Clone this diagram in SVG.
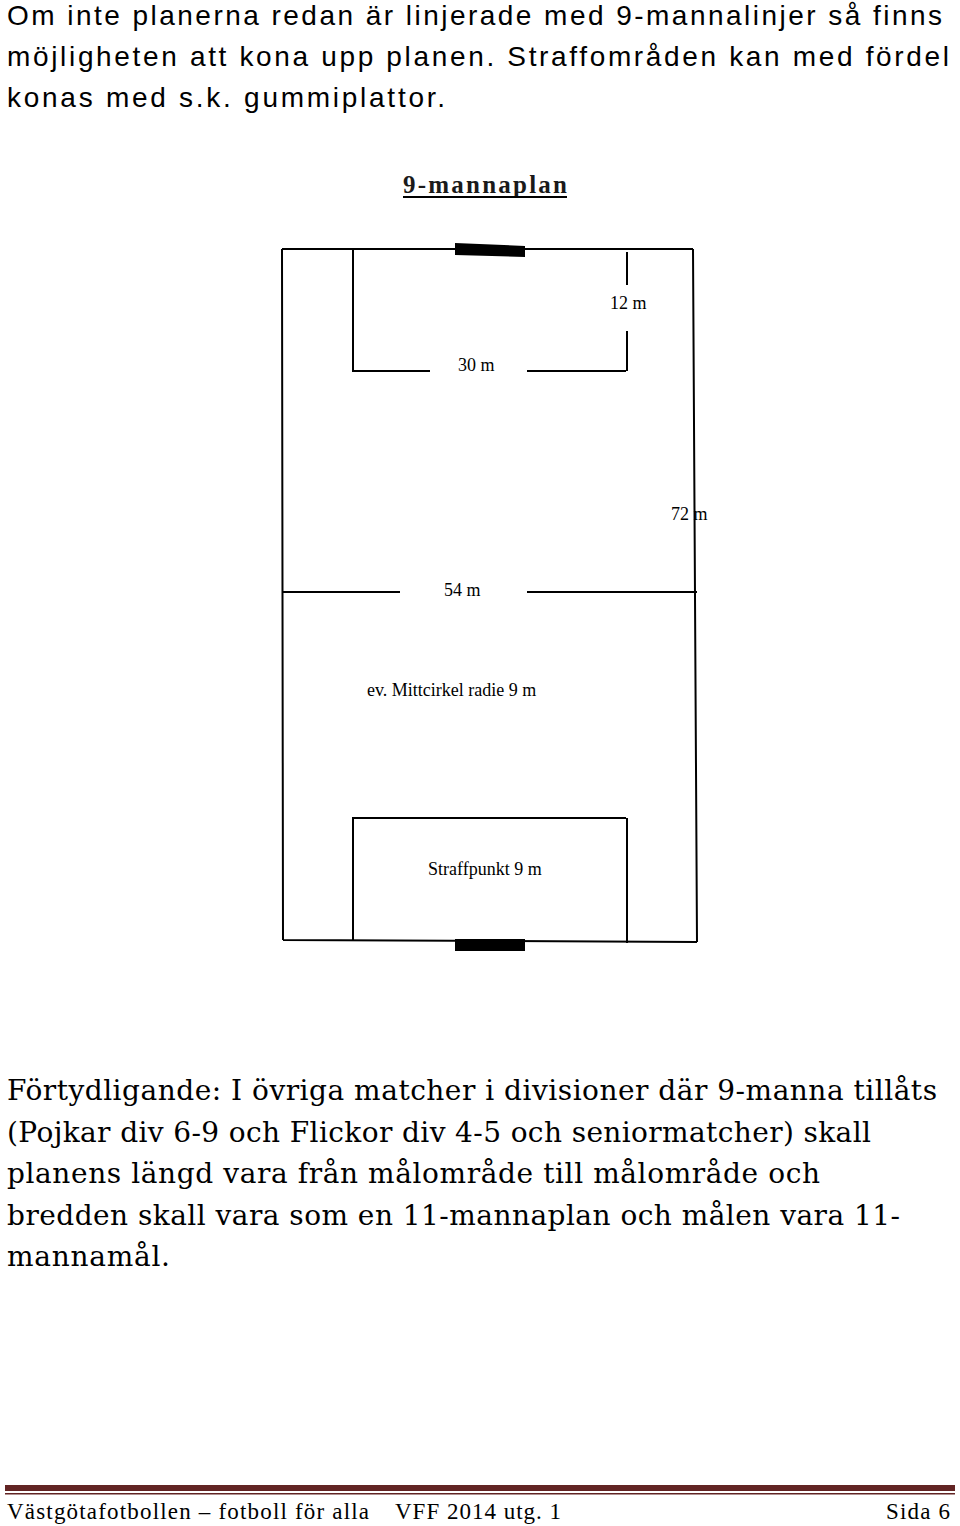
<svg xmlns="http://www.w3.org/2000/svg" width="960" height="1526" viewBox="0 0 960 1526">
<style>
.ln{stroke:#000;stroke-width:2;fill:none}
.top{font-family:"Liberation Sans",Arial,sans-serif;font-size:28px}
.lab{font-family:"Liberation Serif","Times New Roman",serif;font-size:18px}
.body{font-family:"DejaVu Serif","Liberation Serif",serif;font-size:28px}
.ft{font-family:"Liberation Serif",serif;font-size:23px}
</style>
<rect width="960" height="1526" fill="#fff"/>
<text class="top" x="7" y="25" textLength="935">Om inte planerna redan är linjerade med 9-mannalinjer så finns</text>
<text class="top" x="7" y="66" textLength="942">möjligheten att kona upp planen. Straffområden kan med fördel</text>
<text class="top" x="7" y="107" textLength="438">konas med s.k. gummiplattor.</text>
<text x="403" y="193" font-family="Liberation Serif,serif" font-size="25" font-weight="bold" fill="#1a1a1a" textLength="164">9-mannaplan</text>
<line x1="403" y1="197" x2="567" y2="197" stroke="#000" stroke-width="2"/>
<g id="pitch">
<path class="ln" d="M282 249 L693 249 M282 249 L283 940 M693 249 L697 942 M283 940 L697 942"/>
<path class="ln" d="M353 249 L353 371 L430 371 M527 371 L626 371 M627 252 L627 285 M627 331 L627 371"/>
<path class="ln" d="M282 592 L400 592 M527 592 L697 592"/>
<path class="ln" d="M353 940 L353 818 L626 818 M627 818 L627 943"/>
<polygon points="455,243 525,246 525,257 455,255" fill="#000"/>
<rect x="455" y="939" width="70" height="12" fill="#000"/>
</g>
<g id="labels" class="lab">
<text x="610" y="309">12 m</text>
<text x="458" y="371">30 m</text>
<text x="671" y="520">72 m</text>
<text x="444" y="596">54 m</text>
<text x="367" y="696">ev. Mittcirkel radie 9 m</text>
<text x="428" y="875">Straffpunkt 9 m</text>
</g>
<text class="body" x="7" y="1100" textLength="930">Förtydligande: I övriga matcher i divisioner där 9-manna tillåts</text>
<text class="body" x="7" y="1142" textLength="864">(Pojkar div 6-9 och Flickor div 4-5 och seniormatcher) skall</text>
<text class="body" x="7" y="1183" textLength="813">planens längd vara från målområde till målområde och</text>
<text class="body" x="7" y="1225" textLength="893">bredden skall vara som en 11-mannaplan och målen vara 11-</text>
<text class="body" x="7" y="1266" textLength="163">mannamål.</text>
<rect x="5" y="1485" width="950" height="6" fill="#622423"/>
<rect x="5" y="1493" width="950" height="1.5" fill="#622423"/>
<text class="ft" x="7" y="1519" textLength="362">Västgötafotbollen – fotboll för alla</text>
<text class="ft" x="395" y="1519" textLength="166">VFF 2014 utg. 1</text>
<text class="ft" x="886" y="1519" textLength="64">Sida 6</text>
</svg>
